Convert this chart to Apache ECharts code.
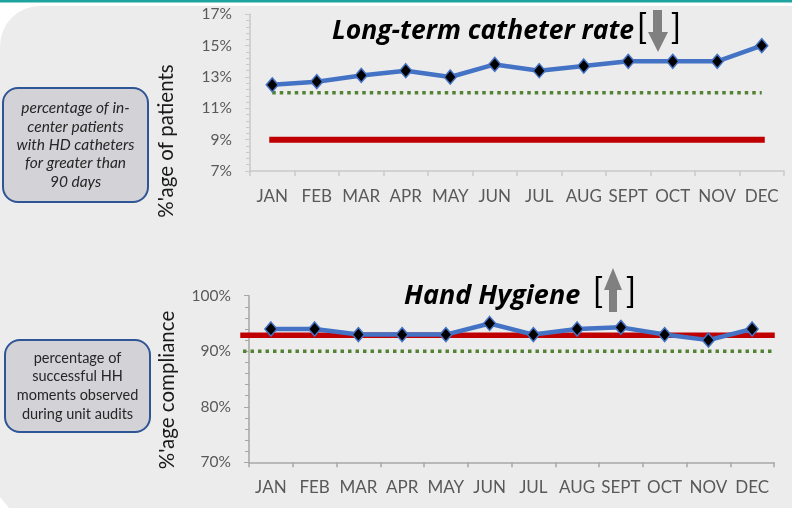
<!DOCTYPE html>
<html>
<head>
<meta charset="utf-8">
<script src="https://cdn.jsdelivr.net/npm/echarts@6/dist/echarts.min.js"></script>
<style>
  html, body { margin: 0; padding: 0; background: #fff; }
  #chart { width: 792px; height: 508px; }
</style>
</head>
<body>
<div id="chart"></div>
<script>
// months on both x axes
const months = ['JAN', 'FEB', 'MAR', 'APR', 'MAY', 'JUN', 'JUL', 'AUG', 'SEPT', 'OCT', 'NOV', 'DEC'];

// long-term catheter rate (%)
const catheterRate = [12.5, 12.7, 13.1, 13.4, 13.0, 13.8, 13.4, 13.7, 14.0, 14.0, 14.0, 15.0];
const catheterGoal = [12, 12, 12, 12, 12, 12, 12, 12, 12, 12, 12, 12];
const catheterBenchmark = [9, 9, 9, 9, 9, 9, 9, 9, 9, 9, 9, 9];

// hand hygiene compliance (%)
const hygieneRate = [94, 94, 93, 93, 93, 95, 93, 94, 94.3, 93, 92, 94];
const hygieneGoal = [90, 90, 90, 90, 90, 90, 90, 90, 90, 90, 90, 90];
const hygieneBenchmark = [92.9, 92.9, 92.9, 92.9, 92.9, 92.9, 92.9, 92.9, 92.9, 92.9, 92.9, 92.9];

// y axis ranges [min, max, interval]
const catheterAxis = [7, 17, 2];
const hygieneAxis = [70, 100, 10];

const FONT = 'Lato';
const TITLE_FONT = 'Open Sans';
const BLUE = '#4472c4';
const RED = '#c00000';
const GREEN = '#548235';

const chart = echarts.init(document.getElementById('chart'), null, { renderer: 'canvas' });

function xAxisOf(gridIndex, axisColor) {
    return {
        type: 'category',
        gridIndex: gridIndex,
        data: months,
        boundaryGap: true,
        axisLine: { lineStyle: { color: axisColor, width: 1.5 } },
        axisTick: { show: true, interval: 0, length: 5, lineStyle: { color: axisColor, width: 1.5 } },
        axisLabel: { interval: 0, margin: 17, color: '#595959', fontFamily: FONT, fontSize: 17 }
    };
}

function yAxisOf(gridIndex, range, axisColor) {
    return {
        type: 'value',
        gridIndex: gridIndex,
        min: range[0],
        max: range[1],
        interval: range[2],
        axisLine: { show: true, lineStyle: { color: axisColor, width: 1.5 } },
        axisTick: { show: true, length: 5, lineStyle: { color: axisColor } },
        minorTick: { show: true, splitNumber: 5, length: 4, lineStyle: { color: axisColor } },
        splitLine: { show: false },
        axisLabel: { margin: 18, color: '#595959', fontFamily: FONT, fontSize: 15.5, formatter: '{value}%' }
    };
}

function rateSeries(x, y, data) {
    return {
        type: 'line',
        xAxisIndex: x,
        yAxisIndex: y,
        data: data,
        z: 5,
        symbol: 'diamond',
        symbolSize: [12, 14],
        lineStyle: { color: BLUE, width: 4.5 },
        itemStyle: { color: '#000', borderColor: BLUE, borderWidth: 1.5 }
    };
}

function flatSeries(x, y, data, color, width, dashed) {
    return {
        type: 'line',
        xAxisIndex: x,
        yAxisIndex: y,
        data: data,
        z: 2,
        symbol: 'none',
        lineStyle: { color: color, width: width, type: dashed ? [3.5, 4] : 'solid', cap: dashed ? 'butt' : 'square' }
    };
}

function boxGroup(x, y, w, h, text, italic, fontSize, lineHeight) {
    return {
        type: 'group',
        children: [
            {
                type: 'rect',
                shape: { x: x, y: y, width: w, height: h, r: 15 },
                style: { fill: '#d3d2d6', stroke: '#2f5597', lineWidth: 2 }
            },
            {
                type: 'text',
                x: x + w / 2,
                y: y + h / 2,
                style: {
                    text: text,
                    align: 'center',
                    verticalAlign: 'middle',
                    fill: '#262626',
                    fontFamily: FONT,
                    fontStyle: italic ? 'italic' : 'normal',
                    fontSize: fontSize,
                    lineHeight: lineHeight
                }
            }
        ]
    };
}

function bracket(x, y, ch) {
    return {
        type: 'text', x: x, y: y,
        style: { text: ch, align: 'center', verticalAlign: 'middle', fill: '#000', fontFamily: FONT, fontSize: 34 }
    };
}

const option = {
    animation: false,
    backgroundColor: '#fff',
    grid: [
        { left: 250, top: 14.3, width: 534, height: 156.7 },
        { left: 249, top: 295.7, width: 525, height: 166.6 },
        { left: 243, top: 295.7, width: 529, height: 166.6 }
    ],
    xAxis: [
        xAxisOf(0, '#c9c9c9'),
        xAxisOf(1, '#a6a6a6'),
        { type: 'category', gridIndex: 2, data: months, boundaryGap: false, show: false }
    ],
    yAxis: [
        yAxisOf(0, catheterAxis, '#c9c9c9'),
        yAxisOf(1, hygieneAxis, '#a6a6a6'),
        { type: 'value', gridIndex: 2, min: hygieneAxis[0], max: hygieneAxis[1], show: false }
    ],
    series: [
        flatSeries(0, 0, catheterBenchmark, RED, 6, false),
        flatSeries(0, 0, catheterGoal, GREEN, 3.5, true),
        rateSeries(0, 0, catheterRate),
        flatSeries(2, 2, hygieneBenchmark, RED, 5.5, false),
        flatSeries(2, 2, hygieneGoal, GREEN, 3.5, true),
        rateSeries(1, 1, hygieneRate)
    ],
    graphic: [
        // page background
        {
            type: 'rect', z: -10, silent: true,
            shape: { x: 0, y: 0, width: 792, height: 2.5 },
            style: { fill: '#1fa39e' }
        },
        {
            type: 'rect', z: -10, silent: true,
            shape: { x: 0, y: 6, width: 792, height: 502, r: [40, 0, 0, 0] },
            style: { fill: '#ececec' }
        },
        {
            type: 'polygon', z: -9, silent: true,
            shape: { points: [[0, 497], [9, 508], [0, 508]] },
            style: { fill: '#fff' }
        },
        boxGroup(3, 88, 145, 114,
            'percentage of in-\ncenter patients\nwith HD catheters\nfor greater than\n90 days', true, 15.5, 18.3),
        boxGroup(5, 340, 145, 92,
            'percentage of\nsuccessful HH\nmoments observed\nduring unit audits', false, 14.5, 18.7),
        // y axis names
        {
            type: 'text', x: 166, y: 141, rotation: Math.PI / 2,
            style: { text: "%'age of patients", align: 'center', verticalAlign: 'middle', fill: '#1a1a1a', fontFamily: FONT, fontSize: 20.5 }
        },
        {
            type: 'text', x: 167, y: 390, rotation: Math.PI / 2,
            style: { text: "%'age compliance", align: 'center', verticalAlign: 'middle', fill: '#1a1a1a', fontFamily: FONT, fontSize: 20.5 }
        },
        // titles
        {
            type: 'text', x: 332, y: 31,
            style: { text: 'Long-term catheter rate', align: 'left', verticalAlign: 'middle', fill: '#000', fontFamily: TITLE_FONT, fontWeight: 'bold', fontStyle: 'italic', fontSize: 26.5 }
        },
        bracket(642, 28, '['),
        bracket(676, 28, ']'),
        {
            type: 'polygon',
            shape: { points: [[653, 10], [662, 10], [662, 32], [668, 32], [658, 52], [648, 32], [653, 32]] },
            style: { fill: '#808080' }
        },
        {
            type: 'text', x: 404, y: 296,
            style: { text: 'Hand Hygiene', align: 'left', verticalAlign: 'middle', fill: '#000', fontFamily: TITLE_FONT, fontWeight: 'bold', fontStyle: 'italic', fontSize: 27 }
        },
        bracket(598, 292, '['),
        bracket(631, 292, ']'),
        {
            type: 'polygon',
            shape: { points: [[613, 268], [622, 290], [617, 290], [617, 312], [609, 312], [609, 290], [604, 290]] },
            style: { fill: '#808080' }
        }
    ]
};

chart.setOption(option);
</script>
</body>
</html>
